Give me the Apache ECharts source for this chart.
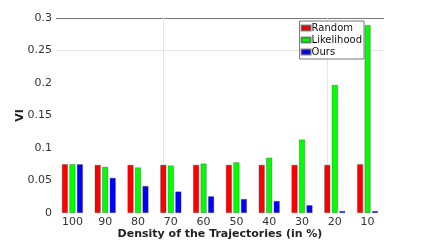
<!DOCTYPE html>
<html><head><meta charset="utf-8">
<script src="https://cdn.jsdelivr.net/npm/echarts@6/dist/echarts.min.js"></script>
<style>html,body{margin:0;padding:0;background:#fff}#c{width:424px;height:242px}</style>
</head><body><div id="c"></div>
<script>
const categories = ['100','90','80','70','60','50','40','30','20','10'];
const randomVals = [0.075,0.074,0.074,0.074,0.074,0.074,0.074,0.074,0.074,0.075];
const likelihoodVals = [0.075,0.071,0.070,0.073,0.076,0.078,0.085,0.113,0.197,0.289];
const oursVals = [0.075,0.054,0.0415,0.033,0.0257,0.0215,0.0185,0.012,0.003,0.003];
const yTicks = [0,0.05,0.1,0.15,0.2,0.25,0.3];

const font = 'DejaVu Sans';
const chart = echarts.init(document.getElementById('c'));
const barStyle = (c) => ({color:c, borderColor:'rgba(60,60,60,0.6)', borderWidth:0.6});
chart.setOption({
  animation:false,
  textStyle:{fontFamily:font},
  grid:{left:56,right:40,top:18,bottom:29,containLabel:false,outerBoundsMode:'none'},
  legend:{
    data:['Random','Likelihood','Ours'],
    orient:'vertical', right:60, top:21, itemWidth:9, itemHeight:5, itemGap:2,
    padding:[2,2,2,1], borderColor:'#777', borderWidth:1, borderRadius:0, backgroundColor:'#fff',
    textStyle:{fontFamily:font,fontSize:10,color:'#111',padding:[0,0,0,-4]},
    icon:'rect', z:10
  },
  xAxis:{
    type:'category', data:categories,
    name:'Density of the Trajectories (in %)', nameLocation:'middle', nameGap:16, nameMoveOverlap:false,
    nameTextStyle:{fontFamily:font,fontSize:11,fontWeight:'bold',color:'#222'},
    axisLine:{show:false}, axisTick:{show:false},
    axisLabel:{fontFamily:font,fontSize:11,color:'#333',margin:4}
  },
  yAxis:{
    type:'value', min:0, max:0.3, interval:0.05,
    name:'VI', nameLocation:'middle', nameGap:30, nameRotate:90, nameMoveOverlap:false,
    nameTextStyle:{fontFamily:font,fontSize:11,fontWeight:'bold',color:'#222'},
    axisLine:{show:false}, axisTick:{show:false}, splitLine:{show:false},
    axisLabel:{fontFamily:font,fontSize:11,color:'#333',margin:4,
      formatter:(v)=>{const t=yTicks.find(x=>Math.abs(x-v)<1e-9);return t===undefined?'':String(t);}}
  },
  series:[
    {name:'Random',type:'bar',data:randomVals,barWidth:6,barGap:'25%',itemStyle:barStyle('#ff0000'),
     markLine:{silent:true,symbol:'none',label:{show:false},animation:false,data:[
       {yAxis:0.3,lineStyle:{color:'#777',width:1,type:'solid'}},
       {yAxis:0.25,lineStyle:{color:'#e6e6e6',width:1,type:'solid'}},
       {xAxis:'70',lineStyle:{color:'#e6e6e6',width:1,type:'solid'}},
       {xAxis:'20',lineStyle:{color:'#e6e6e6',width:1,type:'solid'}}
     ], z:0}},
    {name:'Likelihood',type:'bar',data:likelihoodVals,barWidth:6,barGap:'25%',itemStyle:barStyle('#00ff00')},
    {name:'Ours',type:'bar',data:oursVals,barWidth:6,barGap:'25%',itemStyle:barStyle('#0000ff')}
  ]
});
</script></body></html>
